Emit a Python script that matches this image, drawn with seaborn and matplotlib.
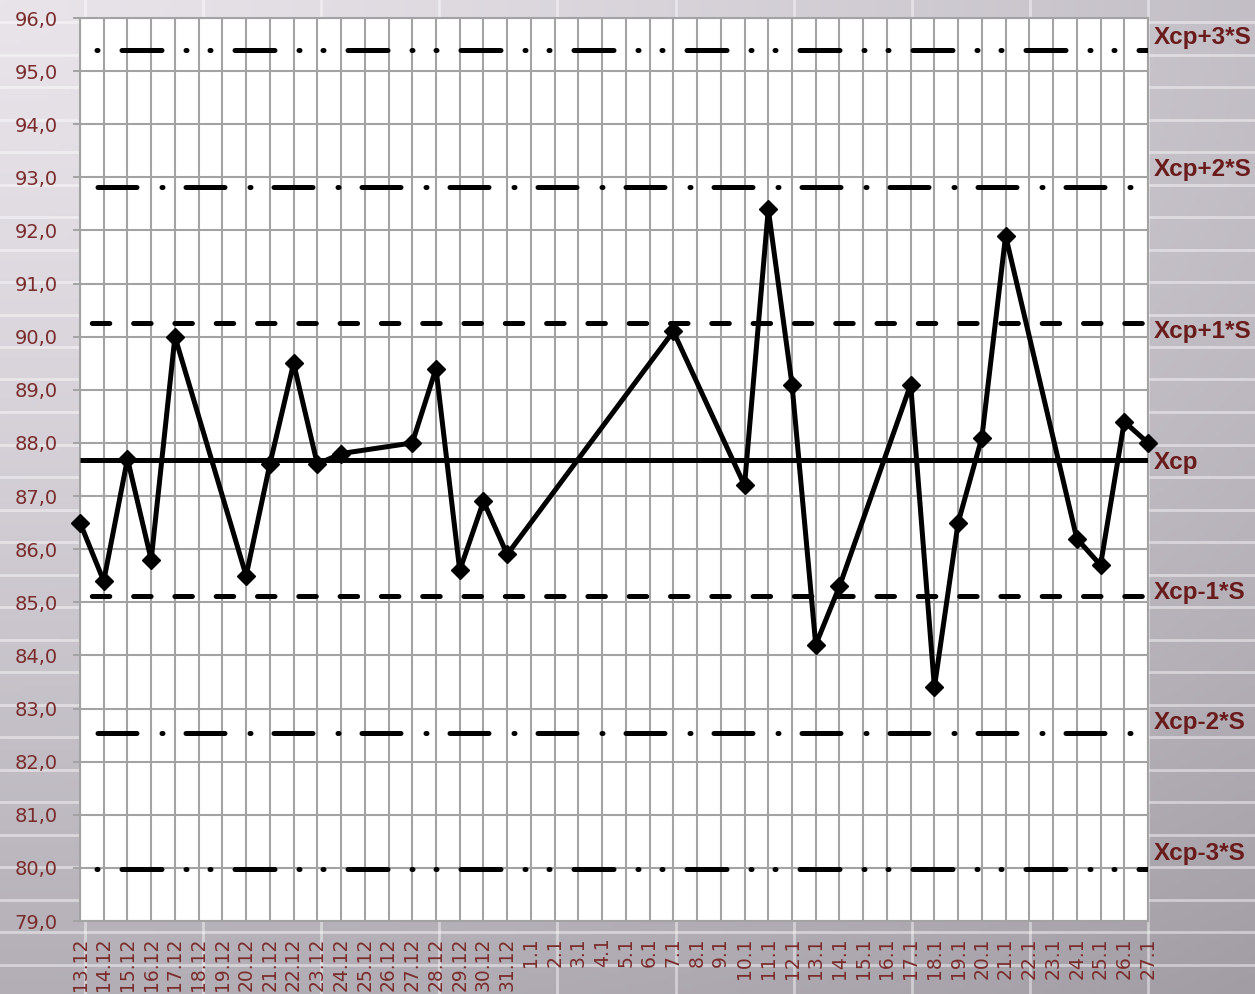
import numpy as np
import pandas as pd
import matplotlib
matplotlib.use("Agg")
import matplotlib.pyplot as plt
from matplotlib.lines import Line2D
import seaborn as sns

# ---- data -------------------------------------------------------------
dates = (["13.12", "14.12", "15.12", "16.12", "17.12", "18.12", "19.12", "20.12",
          "21.12", "22.12", "23.12", "24.12", "25.12", "26.12", "27.12", "28.12",
          "29.12", "30.12", "31.12"]
         + [f"{d}.1" for d in range(1, 28)])

values = [86.5, 85.4, 87.7, 85.8, 90.0, None, None, 85.5,
          87.6, 89.5, 87.6, 87.8, None, None, 88.0, 89.4,
          85.6, 86.9, 85.9,
          None, None, None, None, None, None, 90.1, None, None, 87.2,
          92.4, 89.1, 84.2, 85.3, None, None, 89.1, 83.4, 86.5, 88.1,
          91.9, None, None, 86.2, 85.7, 88.4, 88.0]

x_mean = 87.68      # Xcp
s_dev = 2.57        # S
y_ticks = list(range(79, 97))

# ---- style ------------------------------------------------------------
sns.set_style("white")
plt.rcParams["font.family"] = ["DejaVu Sans"]
plt.rcParams["lines.scale_dashes"] = False

W, H, DPI = 1255, 994, 100
PX = 72.0 / DPI   # points per pixel

label_color = "#7a2c2c"
band_color = "#6a1b1b"
grid_color = "#a3a3a3"

fig = plt.figure(figsize=(W / DPI, H / DPI), dpi=DPI)

# gradient backdrop
bg = fig.add_axes([0, 0, 1, 1], zorder=-3)
yy, xx = np.mgrid[0:1:200j, 0:1:250j]
t = np.clip(np.sqrt((0.75 * xx) ** 2 + yy ** 2) / 1.25, 0, 1) ** 1.25
light = np.array([232, 228, 234]) / 255
dark = np.array([162, 157, 165]) / 255
img = light[None, None, :] + (dark - light)[None, None, :] * t[..., None]
bg.imshow(img, aspect="auto", extent=[0, 1, 0, 1], origin="upper")
bg.set_axis_off()

# faint sheet lines behind the chart
for k in range(31):
    yv = 1 - (22 + 32.5 * k) / H
    fig.add_artist(Line2D([0, 1], [yv, yv], transform=fig.transFigure,
                          color="white", alpha=0.45, lw=2, zorder=-2))
for k in range(10):
    xv = (84.5 + 118.2 * k) / W
    fig.add_artist(Line2D([xv, xv], [0, 1], transform=fig.transFigure,
                          color="white", alpha=0.45, lw=2, zorder=-2))

ax = fig.add_axes([80 / W, 1 - 921 / H, (1148 - 80) / W, (921 - 18) / H])
ax.set_facecolor("white")

pos = np.arange(len(dates))
df = pd.DataFrame({"pos": pos, "date": dates, "value": values}).dropna()

# control limits
lw = 5 * PX
def dash(seq, off):
    return (off * PX, tuple(v * PX for v in seq))

bands = [
    ("Xcp+3*S", x_mean + 3 * s_dev, dash((40, 24, 1, 23, 1, 24), 71.5), -13),
    ("Xcp+2*S", x_mean + 2 * s_dev, dash((39, 25, 1, 23), 70.5), -17),
    ("Xcp+1*S", x_mean + 1 * s_dev, dash((17.5, 23.8), 29.5), 8),
    ("Xcp", x_mean, "-", 3),
    ("Xcp-1*S", x_mean - 1 * s_dev, dash((17.5, 23.8), 29.5), -4),
    ("Xcp-2*S", x_mean - 2 * s_dev, dash((39, 25, 1, 23), 70.5), -10),
    ("Xcp-3*S", x_mean - 3 * s_dev, dash((40, 24, 1, 23, 1, 24), 71.5), -16),
]
for name, yval, ls, dy in bands:
    ax.axhline(yval, color="black", lw=lw, linestyle=ls,
               dash_capstyle="round", solid_capstyle="butt", zorder=3)
    ax.annotate(name, xy=(1, yval), xycoords=("axes fraction", "data"),
                xytext=(6 * PX, -dy * PX), textcoords="offset points",
                ha="left", va="center", fontsize=17.5, fontweight="bold",
                family=["Liberation Sans", "DejaVu Sans"], color=band_color,
                annotation_clip=False)

# measurements
sns.lineplot(data=df, x="pos", y="value", ax=ax, color="black", lw=lw,
             marker="D", markersize=9, markeredgecolor="black",
             markeredgewidth=1, zorder=4, clip_on=False)

ax.set_xlim(0, len(dates) - 1)
ax.set_ylim(79, 96)
ax.set_xticks(pos)
ax.set_xticklabels(dates, rotation=90, fontsize=13.5, color=label_color)
ax.set_yticks(y_ticks)
ax.set_yticklabels([f"{v:.1f}".replace(".", ",") for v in y_ticks],
                   fontsize=14, color=label_color)
ax.tick_params(axis="x", length=0, pad=12)
ax.tick_params(axis="y", left=True, length=5, width=1.4, color=grid_color, pad=11)
ax.set_xlabel("")
ax.set_ylabel("")
ax.grid(True, color=grid_color, lw=1.5)
ax.set_axisbelow(True)
for sp in ax.spines.values():
    sp.set_color(grid_color)
    sp.set_linewidth(1.5)

fig.savefig("out.png", dpi=DPI)
